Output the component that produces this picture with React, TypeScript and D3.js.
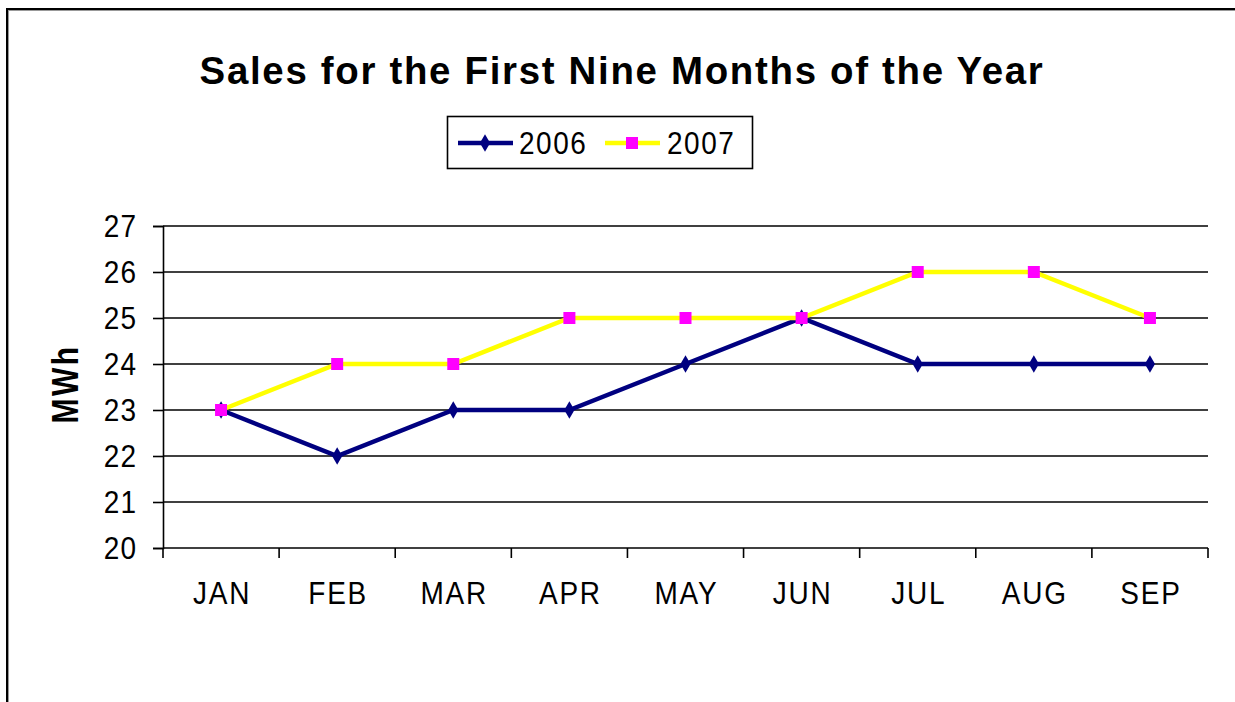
import { useEffect, useRef } from "react";
import * as d3 from "d3";

const months = ["JAN", "FEB", "MAR", "APR", "MAY", "JUN", "JUL", "AUG", "SEP"];
const sales2006 = [23, 22, 23, 23, 24, 25, 24, 24, 24];
const sales2007 = [23, 24, 24, 25, 25, 25, 26, 26, 25];
const yTicks = [20, 21, 22, 23, 24, 25, 26, 27];

const W = 1235;
const H = 702;
const FONT = "'Liberation Sans', Arial, sans-serif";
const STRETCH = 1.15; // the picture is a bit taller than wide

const App = () => {
  const ref = useRef<SVGSVGElement>(null);

  useEffect(() => {
    const svg = d3.select(ref.current);
    svg.selectAll("*").remove();

    // outer frame (runs off the right and bottom)
    svg.append("rect")
      .attr("x", 8).attr("y", 10)
      .attr("width", W + 20).attr("height", H + 20)
      .attr("fill", "none").attr("stroke", "#999").attr("stroke-width", 2);
    svg.append("rect")
      .attr("x", 7).attr("y", 9)
      .attr("width", W + 20).attr("height", H + 20)
      .attr("fill", "none").attr("stroke", "#000").attr("stroke-width", 2);

    const x = d3.scaleBand().domain(months).range([163, 1208]);
    const y = d3.scaleLinear().domain([20, 27]).range([548, 226]);

    const stretchedText = (px: number, py: number, str: string, size: number, anchor: string,
      bold = false, spacing = 0, sx = 1) => {
      svg.append("g")
        .attr("transform", `translate(${px},${py}) scale(${sx},${STRETCH})`)
        .append("text")
        .attr("text-anchor", anchor)
        .attr("dominant-baseline", "central")
        .attr("font-family", FONT)
        .attr("font-size", size)
        .attr("font-weight", bold ? "bold" : "normal")
        .attr("letter-spacing", spacing)
        .attr("fill", "#000")
        .text(str);
    };

    // title
    stretchedText(622, 70, "Sales for the First Nine Months of the Year", 34, "middle", true, 1.5, 1.13);

    // gridlines
    svg.append("g")
      .selectAll("line")
      .data(yTicks.filter((d) => d > 20))
      .join("line")
      .attr("x1", 163).attr("x2", 1208)
      .attr("y1", (d) => y(d)).attr("y2", (d) => y(d))
      .attr("stroke", "#000").attr("stroke-width", 1.6);

    // y axis
    const yAxis = svg.append("g").attr("transform", "translate(163,0)")
      .call(d3.axisLeft(y).tickValues(yTicks).tickSize(10).tickFormat(() => ""));
    yAxis.select(".domain").attr("stroke", "#000").attr("stroke-width", 1.6);
    yAxis.selectAll(".tick line").attr("stroke", "#000").attr("stroke-width", 1.6);
    yTicks.forEach((t) => stretchedText(137, y(t), String(t), 28, "end", false, 1));

    // x axis
    const xTickPos = months.map((m) => x(m) as number).concat([1208]);
    svg.append("line")
      .attr("x1", 163).attr("x2", 1208).attr("y1", 548).attr("y2", 548)
      .attr("stroke", "#000").attr("stroke-width", 1.6);
    svg.append("g")
      .selectAll("line")
      .data(xTickPos)
      .join("line")
      .attr("x1", (d) => d).attr("x2", (d) => d)
      .attr("y1", 548).attr("y2", 558)
      .attr("stroke", "#000").attr("stroke-width", 1.6);
    months.forEach((m) => stretchedText((x(m) as number) + x.bandwidth() / 2 + 1, 593, m, 28, "middle", false, 1.8));

    // y title
    svg.append("g")
      .attr("transform", "translate(66,384) rotate(-90) scale(1,1.2)")
      .append("text")
      .attr("text-anchor", "middle").attr("dominant-baseline", "central")
      .attr("font-family", FONT).attr("font-size", 30).attr("font-weight", "bold")
      .attr("letter-spacing", 2.5)
      .text("MWh");

    const cx = (i: number) => (x(months[i]) as number) + x.bandwidth() / 2;
    const line = d3.line<number>().x((_, i) => cx(i)).y((d) => y(d));

    const diamond = d3.symbol().type(d3.symbolDiamond).size(90);

    // 2006
    svg.append("path").datum(sales2006)
      .attr("d", line).attr("fill", "none")
      .attr("stroke", "#000080").attr("stroke-width", 4.5).attr("stroke-linejoin", "miter");
    svg.append("g").selectAll("path")
      .data(sales2006)
      .join("path")
      .attr("transform", (d, i) => `translate(${cx(i)},${y(d)})`)
      .attr("d", diamond).attr("fill", "#000080");

    // 2007
    svg.append("path").datum(sales2007)
      .attr("d", line).attr("fill", "none")
      .attr("stroke", "#ffff00").attr("stroke-width", 4.5);
    svg.append("g").selectAll("rect")
      .data(sales2007)
      .join("rect")
      .attr("x", (d, i) => cx(i) - 6).attr("y", (d) => y(d) - 6)
      .attr("width", 12).attr("height", 12)
      .attr("fill", "#ff00ff");

    // legend
    svg.append("rect")
      .attr("x", 447.5).attr("y", 116.5).attr("width", 305).attr("height", 52)
      .attr("fill", "#fff").attr("stroke", "#000").attr("stroke-width", 1.6);
    const legendItems = [
      { name: "2006", x0: 458, text: 519 },
      { name: "2007", x0: 605, text: 667 },
    ];
    legendItems.forEach((it, k) => {
      svg.append("line")
        .attr("x1", it.x0).attr("x2", it.x0 + 55).attr("y1", 143).attr("y2", 143)
        .attr("stroke", k === 0 ? "#000080" : "#ffff00").attr("stroke-width", 4.5);
      if (k === 0) {
        svg.append("path").attr("transform", `translate(${it.x0 + 27},143)`)
          .attr("d", diamond).attr("fill", "#000080");
      } else {
        svg.append("rect").attr("x", it.x0 + 21).attr("y", 137)
          .attr("width", 12).attr("height", 12).attr("fill", "#ff00ff");
      }
      stretchedText(it.text, 143, it.name, 28, "start", false, 1.5);
    });
  }, []);

  return (
    <svg ref={ref} width={W} height={H}
      style={{ position: "absolute", left: 0, top: 0, background: "#fff" }} />
  );
};

export default App;
